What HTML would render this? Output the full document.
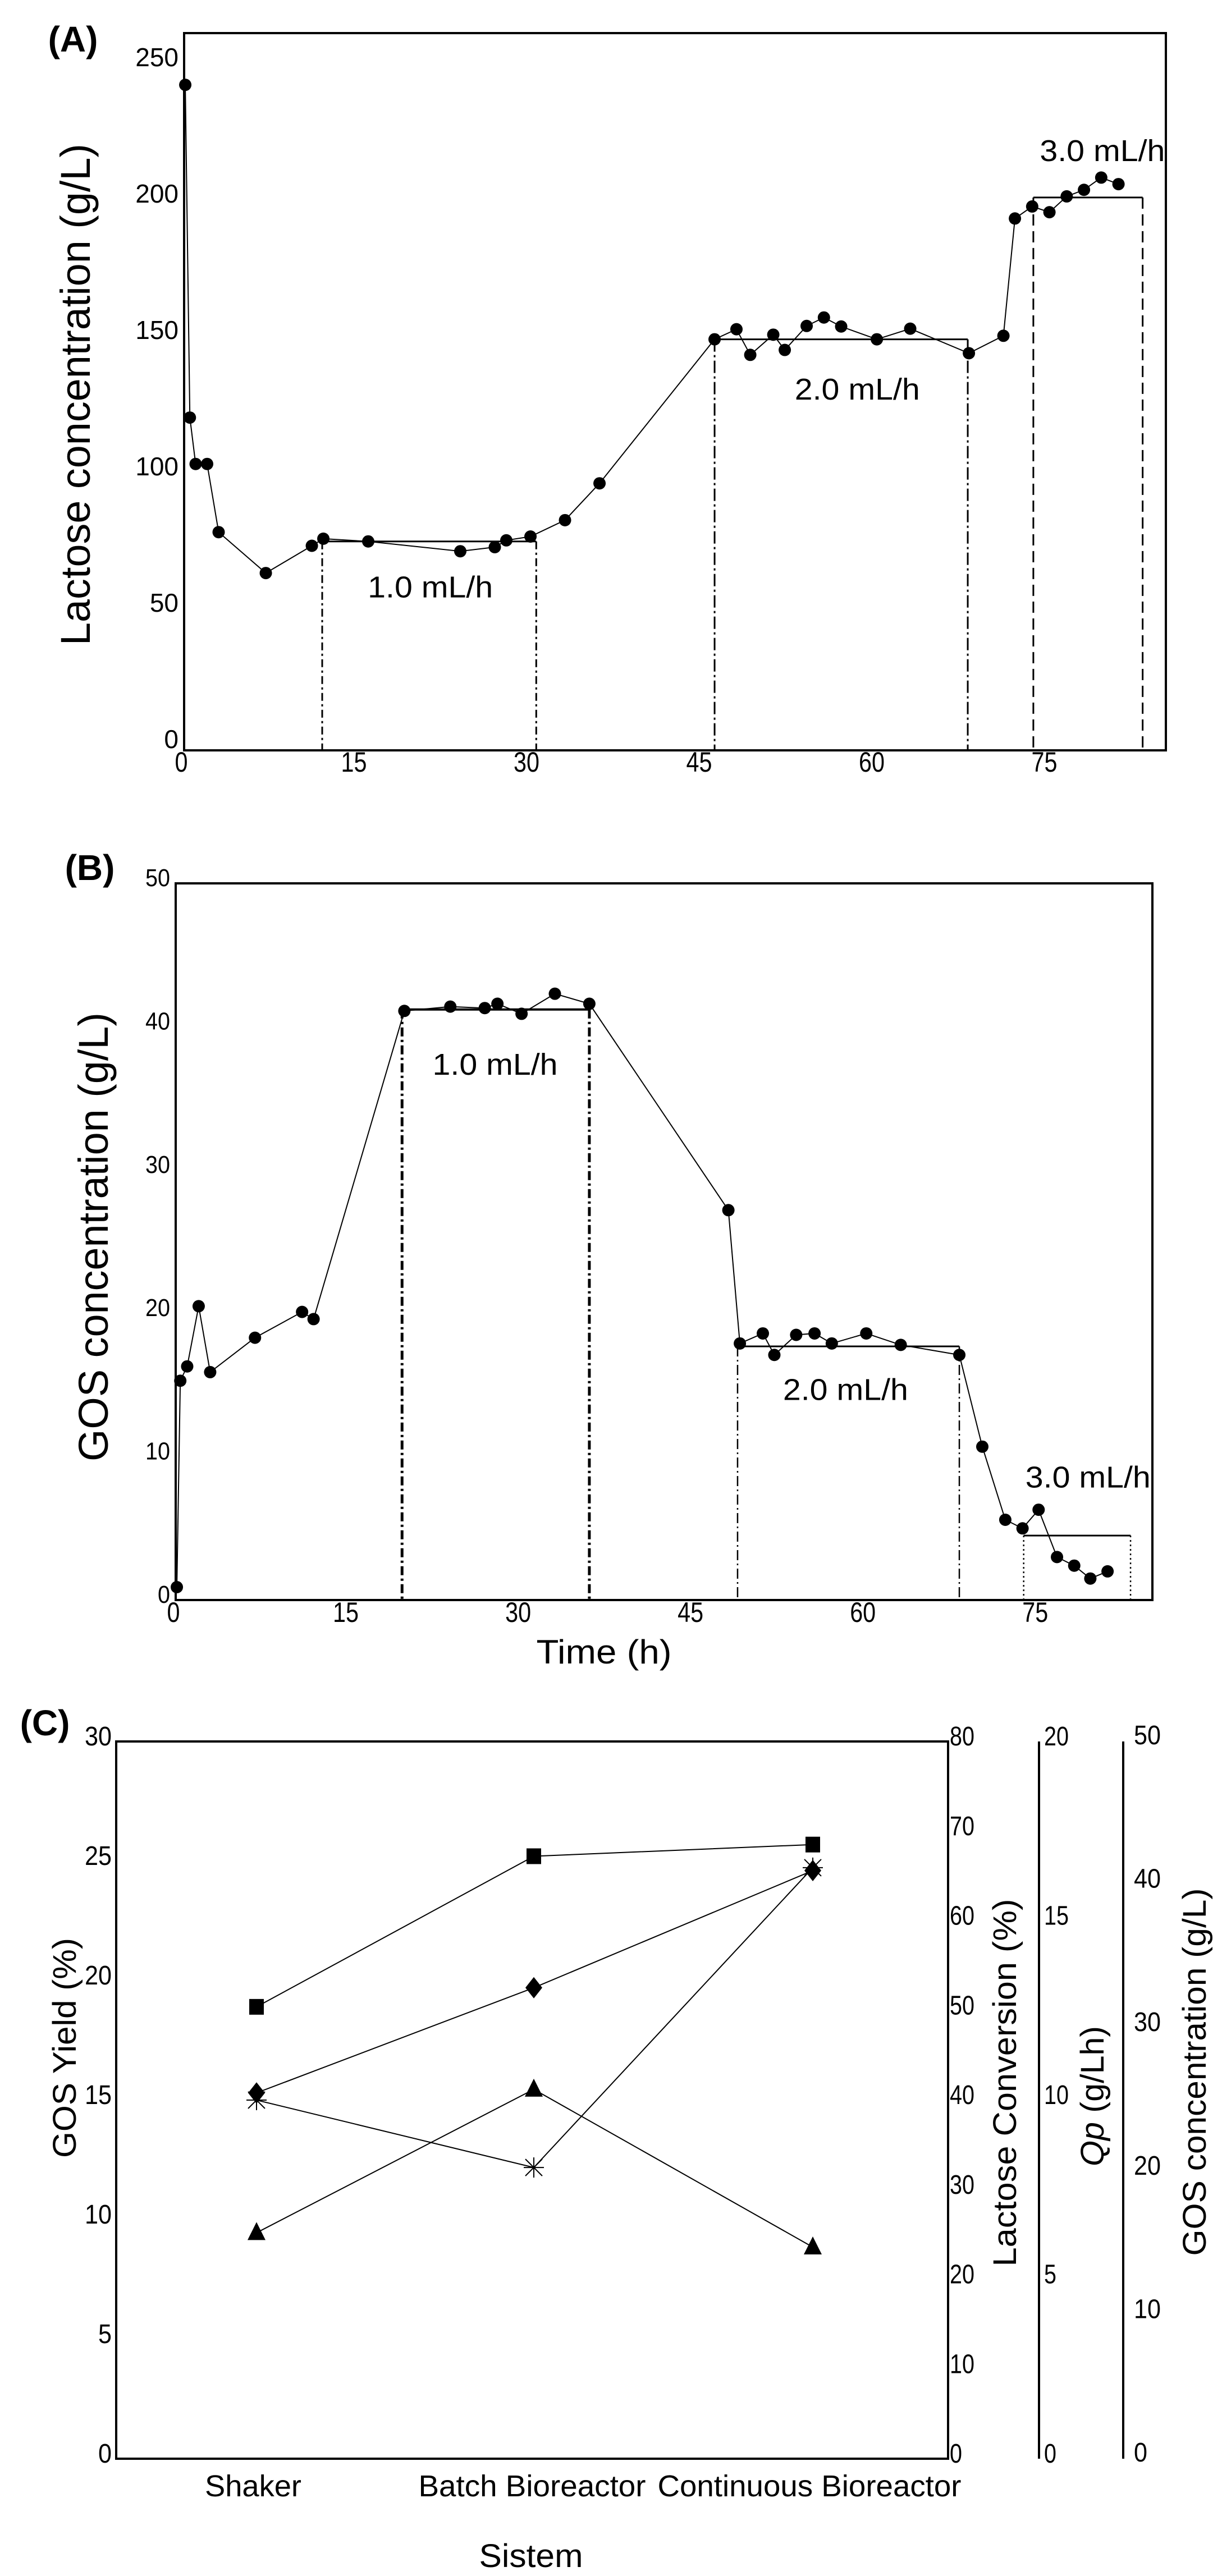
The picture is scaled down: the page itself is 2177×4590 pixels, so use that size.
<!DOCTYPE html>
<html><head><meta charset="utf-8"><style>
html,body{margin:0;padding:0;background:#fff;}
svg{display:block;font-family:"Liberation Sans",Arial,sans-serif;}
</style></head><body>
<svg id="fig" width="2177" height="4590" viewBox="0 0 2177 4590" xmlns="http://www.w3.org/2000/svg">
<rect x="0" y="0" width="2177" height="4590" fill="#fff"/>
</svg>
<script>
// Panel A: lactose concentration
const aTime = [0.1,0.5,1,2,3,7.1,11.1,12.1,16,24,27,28,30.1,33.1,36.1,46.1,48,49.2,51.2,52.2,54.1,55.6,57.1,60.2,63.1,68.2,71.2,72.2,73.7,75.2,76.7,78.2,79.7,81.2];
const aLactose = [244,122,105,105,80,65,75,77.6,76.6,73,74.5,77,78.4,84.4,97.9,150.7,154.4,145,152.4,146.8,155.6,158.7,155.4,150.7,154.6,145.6,152,195,199.4,197.3,203.1,205.5,210,207.6];
const aStepStart = [12,46.1,73.8];
const aStepEnd = [30.6,68.1,83.3];
const aStepLevel = [76.6,150.7,202.7];
const aStepLabels = ["1.0 mL/h","2.0 mL/h","3.0 mL/h"];
const aLabelT = [21.4,58.5,79.8];
const aLabelV = [60,132.5,220];
const aYTicks = [0,50,100,150,200,250];
const xTicks = [0,15,30,45,60,75];

// Panel B: GOS concentration
const bTime = [0.1,0.4,1,2,3,6.9,11,12,19.9,23.9,26.9,28,30.1,33,36,48.1,49.1,51.1,52.1,54,55.6,57.1,60.1,63.1,68.2,70.2,72.2,73.7,75.1,76.7,78.2,79.6,81.1];
const bGOS = [0.9,15.3,16.3,20.5,15.9,18.3,20.1,19.6,41.1,41.4,41.3,41.6,40.9,42.3,41.6,27.2,17.9,18.6,17.1,18.5,18.6,17.9,18.6,17.8,17.1,10.7,5.6,5.0,6.3,3.0,2.4,1.5,2.0];
const bStepStart = [19.7,48.9,73.8];
const bStepEnd = [36.0,68.2,83.1];
const bStepLevel = [41.2,17.7,4.5];
const bStepLabels = ["1.0 mL/h","2.0 mL/h","3.0 mL/h"];
const bLabelT = [27.8,58.3,79.4];
const bLabelV = [37.4,14.7,8.6];
const bYTicks = [0,10,20,30,40,50];

// Panel C: system comparison
const cCategories = ["Shaker","Batch Bioreactor","Continuous Bioreactor"];
const cLactoseConv = [50.4,67.2,68.5];
const cGOSYield = [15.3,19.7,24.6];
const cGOSConc = [25.0,20.3,41.2];
const cQp = [6.3,10.3,5.9];
const cYieldTicks = [0,5,10,15,20,25,30];
const cConvTicks = [0,10,20,30,40,50,60,70,80];
const cQpTicks = [0,5,10,15,20];
const cConcTicks = [0,10,20,30,40,50];

const NS = "http://www.w3.org/2000/svg";
const svg = document.getElementById('fig');
function mk(tag, attrs, parent){
  const e = document.createElementNS(NS, tag);
  for (const k in attrs) e.setAttribute(k, attrs[k]);
  (parent||svg).appendChild(e);
  return e;
}
function txt(str, attrs, parent){
  const e = mk('text', attrs, parent);
  e.textContent = str;
  return e;
}

// ---------- Panel A ----------
const gA = mk('g', {});


const axA = {x0:328, x1:2077, y0:1337, y1:59};
const xA = t => axA.x0 + t*20.5;
const yA = v => axA.y0 - v*4.86;
let r = mk('rect', {x:axA.x0, y:axA.y1, width:axA.x1-axA.x0, height:axA.y0-axA.y1, fill:'none', stroke:'#000', 'stroke-width':4}, gA);


let t = txt('(A)', {x:130, y:92, 'font-size':64, 'font-weight':'bold', 'text-anchor':'middle'}, gA);


aYTicks.forEach(v => {
  const e = txt(String(v), {x:318, y:yA(v)-20+16, 'font-size':46, 'text-anchor':'end'}, gA);
  
  
});
xTicks.forEach(v => {
  const e = txt(String(v), {x:xA(v)-5, y:1375, 'font-size':50, 'text-anchor':'middle', textLength: String(v).length*23, lengthAdjust:'spacingAndGlyphs'}, gA);
  
  
});
t = txt('Lactose concentration (g/L)', {x:0, y:0, 'font-size':74, 'text-anchor':'middle', transform:'translate(160,703) rotate(-90)', textLength:894, lengthAdjust:'spacingAndGlyphs'}, gA);


const aDash = [['14,6,4,6','14,6,4,6'],['22,6,4,6','22,6,4,6'],['20,10','20,10']];
aStepStart.forEach((s,i) => {
  const lv = yA(aStepLevel[i]);
  let l = mk('line', {x1:xA(s), y1:lv, x2:xA(aStepEnd[i]), y2:lv, stroke:'#000', 'stroke-width':3}, gA);
  
  
  [s, aStepEnd[i]].forEach((tt,j) => {
    const v = mk('line', {x1:xA(tt), y1:lv, x2:xA(tt), y2:axA.y0, stroke:'#000', 'stroke-width':3, 'stroke-dasharray':aDash[i][j]}, gA);
    
    
  });
  const lb = txt(aStepLabels[i], {x:xA(aLabelT[i]), y:yA(aLabelV[i])+19, 'font-size':54, 'text-anchor':'middle', textLength:223, lengthAdjust:'spacingAndGlyphs'}, gA);
  
  
});
let pl = mk('polyline', {points: aTime.map((tt,i)=>xA(tt)+','+yA(aLactose[i])).join(' '), fill:'none', stroke:'#000', 'stroke-width':2}, gA);


aTime.forEach((tt,i) => {
  const c = mk('circle', {cx:xA(tt), cy:yA(aLactose[i]), r:11, fill:'#000'}, gA);
  
  
});

// ---------- Panel B ----------
const gB = mk('g', {});


const axB = {x0:313, x1:2053, y0:2851, y1:1574};
const xB = tt => axB.x0 + tt*20.47;
const yB = v => axB.y0 - v*25.54;
r = mk('rect', {x:axB.x0, y:axB.y1, width:axB.x1-axB.x0, height:axB.y0-axB.y1, fill:'none', stroke:'#000', 'stroke-width':4}, gB);


t = txt('(B)', {x:160, y:1568, 'font-size':64, 'font-weight':'bold', 'text-anchor':'middle'}, gB);


bYTicks.forEach(v => {
  const e = txt(String(v), {x:303, y:yB(v)+5, 'font-size':44, 'text-anchor':'end', textLength:String(v).length*22, lengthAdjust:'spacingAndGlyphs'}, gB);
  
  
});
xTicks.forEach(v => {
  const e = txt(String(v), {x:xB(v)-4, y:2890, 'font-size':50, 'text-anchor':'middle', textLength:String(v).length*23, lengthAdjust:'spacingAndGlyphs'}, gB);
  
  
});
t = txt('GOS concentration (g/L)', {x:0, y:0, 'font-size':74, 'text-anchor':'middle', transform:'translate(192,2204) rotate(-90)', textLength:800, lengthAdjust:'spacingAndGlyphs'}, gB);


t = txt('Time (h)', {x:1076, y:2964, 'font-size':60, 'text-anchor':'middle', textLength:241, lengthAdjust:'spacingAndGlyphs'}, gB);


const bDash = ['16,6,4,6','18,6,3,6','3,5'];
const bW = [5,2.5,2.5];
bStepStart.forEach((s,i) => {
  const lv = yB(bStepLevel[i]);
  let l = mk('line', {x1:xB(s), y1:lv, x2:xB(bStepEnd[i]), y2:lv, stroke:'#000', 'stroke-width':i==0?4:3}, gB);
  
  
  [s, bStepEnd[i]].forEach(tt => {
    const v = mk('line', {x1:xB(tt), y1:lv, x2:xB(tt), y2:axB.y0, stroke:'#000', 'stroke-width':bW[i], 'stroke-dasharray':bDash[i]}, gB);
    
    
  });
  const lb = txt(bStepLabels[i], {x:xB(bLabelT[i]), y:yB(bLabelV[i])+19, 'font-size':54, 'text-anchor':'middle', textLength:223, lengthAdjust:'spacingAndGlyphs'}, gB);
  
  
});
pl = mk('polyline', {points: bTime.map((tt,i)=>xB(tt)+','+yB(bGOS[i])).join(' '), fill:'none', stroke:'#000', 'stroke-width':2}, gB);


bTime.forEach((tt,i) => {
  const c = mk('circle', {cx:xB(tt), cy:yB(bGOS[i]), r:11, fill:'#000'}, gB);
  
  
});

// ---------- Panel C ----------
const gC = mk('g', {});


const axC = {x0:207, x1:1689, y0:4381, y1:3103};
const xC = i => [457,951,1448][i];
const yYield = v => axC.y0 - v*(axC.y0-axC.y1)/30;
const yConv = v => axC.y0 - v*(axC.y0-axC.y1)/80;
const yQp = v => axC.y0 - v*(axC.y0-axC.y1)/20;
const yConc = v => axC.y0 - v*(axC.y0-axC.y1)/50;
r = mk('rect', {x:axC.x0, y:axC.y1, width:axC.x1-axC.x0, height:axC.y0-axC.y1, fill:'none', stroke:'#000', 'stroke-width':4}, gC);


let ax = mk('line', {x1:1851, y1:axC.y1, x2:1851, y2:axC.y0, stroke:'#000', 'stroke-width':4}, gC);


ax = mk('line', {x1:2001, y1:axC.y1, x2:2001, y2:axC.y0, stroke:'#000', 'stroke-width':4}, gC);


t = txt('(C)', {x:80, y:3092, 'font-size':64, 'font-weight':'bold', 'text-anchor':'middle'}, gC);


cYieldTicks.forEach(v => {
  const e = txt(String(v), {x:199, y:yYield(v)+7, 'font-size':48, 'text-anchor':'end', textLength:String(v).length*24, lengthAdjust:'spacingAndGlyphs'}, gC);
  
  
});
cConvTicks.forEach(v => {
  const e = txt(String(v), {x:1692, y:yConv(v)+7, 'font-size':48, 'text-anchor':'start', textLength:String(v).length*22, lengthAdjust:'spacingAndGlyphs'}, gC);
  
  
});
cQpTicks.forEach(v => {
  const e = txt(String(v), {x:1860, y:yQp(v)+7, 'font-size':48, 'text-anchor':'start', textLength:String(v).length*22, lengthAdjust:'spacingAndGlyphs'}, gC);
  
  
});
cConcTicks.forEach(v => {
  const e = txt(String(v), {x:2020, y:yConc(v)+5, 'font-size':48, 'text-anchor':'start', textLength:String(v).length*24, lengthAdjust:'spacingAndGlyphs'}, gC);
  
  
});
const catW = [172,405,541];
cCategories.forEach((c,i) => {
  const e = txt(c, {x:[451,948,1442][i], y:4448, 'font-size':54, 'text-anchor':'middle', textLength:catW[i], lengthAdjust:'spacingAndGlyphs'}, gC);
  
  
});
t = txt('Sistem', {x:946, y:4574, 'font-size':58, 'text-anchor':'middle', textLength:185, lengthAdjust:'spacingAndGlyphs'}, gC);


t = txt('GOS Yield (%)', {x:0, y:0, 'font-size':58, 'text-anchor':'middle', transform:'translate(135,3649) rotate(-90)', textLength:392, lengthAdjust:'spacingAndGlyphs'}, gC);


t = txt('Lactose Conversion (%)', {x:0, y:0, 'font-size':58, 'text-anchor':'middle', transform:'translate(1810,3711) rotate(-90)', textLength:655, lengthAdjust:'spacingAndGlyphs'}, gC);


t = mk('text', {x:0, y:0, 'font-size':58, 'text-anchor':'middle', transform:'translate(1966,3735) rotate(-90)', textLength:250, lengthAdjust:'spacingAndGlyphs'}, gC);


const ts1 = mk('tspan', {'font-style':'italic'}, t); ts1.textContent = 'Qp';
const ts2 = mk('tspan', {}, t); ts2.textContent = ' (g/Lh)';
t = txt('GOS concentration (g/L)', {x:0, y:0, 'font-size':58, 'text-anchor':'middle', transform:'translate(2148,3692) rotate(-90)', textLength:655, lengthAdjust:'spacingAndGlyphs'}, gC);



function seriesLine(vals, yf, name){
  const p = mk('polyline', {points: vals.map((v,i)=>xC(i)+','+yf(v)).join(' '), fill:'none', stroke:'#000', 'stroke-width':2}, gC);
  
  
}
seriesLine(cLactoseConv, yConv, 'lactose-conversion-line');
seriesLine(cGOSYield, yYield, 'gos-yield-line');
seriesLine(cGOSConc, yConc, 'gos-concentration-line');
seriesLine(cQp, yQp, 'qp-line');
cLactoseConv.forEach((v,i) => {
  const m = mk('rect', {x:xC(i)-13, y:yConv(v)-14, width:26, height:28, fill:'#000'}, gC);
  
  
});
cGOSYield.forEach((v,i) => {
  const x = xC(i), y = yYield(v);
  const m = mk('polygon', {points:`${x},${y-19} ${x+15},${y} ${x},${y+19} ${x-15},${y}`, fill:'#000'}, gC);
  
  
});
cGOSConc.forEach((v,i) => {
  const x = xC(i), y = yConc(v);
  const m = mk('path', {d:`M${x-15},${y-15}L${x+15},${y+15}M${x-15},${y+15}L${x+15},${y-15}M${x},${y-18}L${x},${y+18}M${x-18},${y}L${x+18},${y}`, stroke:'#000', 'stroke-width':2, fill:'none'}, gC);
  
  
});
cQp.forEach((v,i) => {
  const x = xC(i), y = yQp(v);
  const m = mk('polygon', {points:`${x},${y-19} ${x+16},${y+13} ${x-16},${y+13}`, fill:'#000'}, gC);
  
  
});
</script>
</body></html>
